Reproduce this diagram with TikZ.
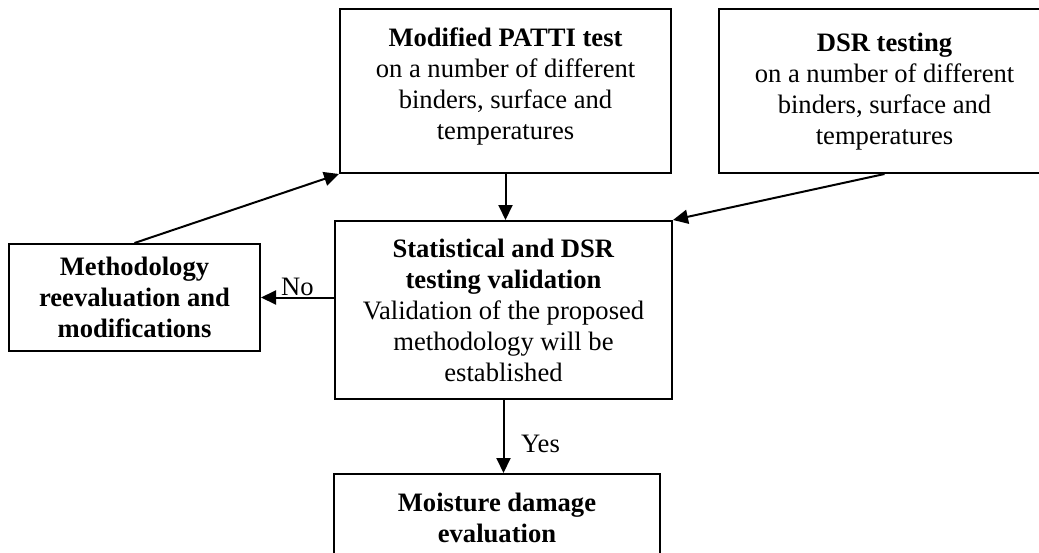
\documentclass[tikz,border=0pt]{standalone}
\usepackage{fontspec}
\setmainfont{Liberation Serif}
\usetikzlibrary{arrows.meta, positioning}

\begin{document}
\begin{tikzpicture}[x=0.5pt, y=-0.5pt,
    font=\fontsize{13.3}{15.5}\selectfont,
    box/.style={draw, line width=1pt, align=center, inner sep=0pt},
    flow/.style={line width=1pt, -{Triangle[length=7.5pt, width=7pt]}}]
    \useasboundingbox (0,0) rectangle (1039,552);
    % test boxes on top
    \node[box, minimum width=165.5pt, minimum height=82pt] (patti) at (505.5, 91)
        {\parbox[c][63pt][t]{160pt}{\centering\textbf{Modified PATTI test}\\ on a number of different\\ binders, surface and\\ temperatures}};
    \node[box, minimum width=165.5pt, minimum height=82pt] (dsr) at (884.5, 91)
        {\parbox[c][58pt][t]{160pt}{\centering\textbf{DSR testing}\\ on a number of different\\ binders, surface and\\ temperatures}};
    % validation and the two outcomes
    \node[box, minimum width=168.5pt, minimum height=89pt] (stat) at (503.5, 310)
        {\textbf{Statistical and DSR}\\ \textbf{testing validation}\\ Validation of the proposed\\ methodology will be\\ established};
    \node[box, minimum width=125.5pt, minimum height=53.5pt] (meth) at (134.5, 297.5)
        {\textbf{Methodology}\\ \textbf{reevaluation and}\\ \textbf{modifications}};
    \node[box, minimum width=163pt, minimum height=44pt] (moist) at (497, 518)
        {\textbf{Moisture damage}\\ \textbf{evaluation}};
    \draw[flow] (patti.south) -- (patti.south |- stat.north);
    \draw[flow] (dsr.south) -- (stat.north east);
    \draw[flow] (meth.north) -- (patti.south west);
    \draw[flow] (stat.west |- meth.east) -- node[above, inner sep=0.5pt] {No} (meth.east);
    \draw[flow] (stat.south) -- node[right=5pt, pos=0.6] {Yes} (stat.south |- moist.north);
\end{tikzpicture}
\end{document}
